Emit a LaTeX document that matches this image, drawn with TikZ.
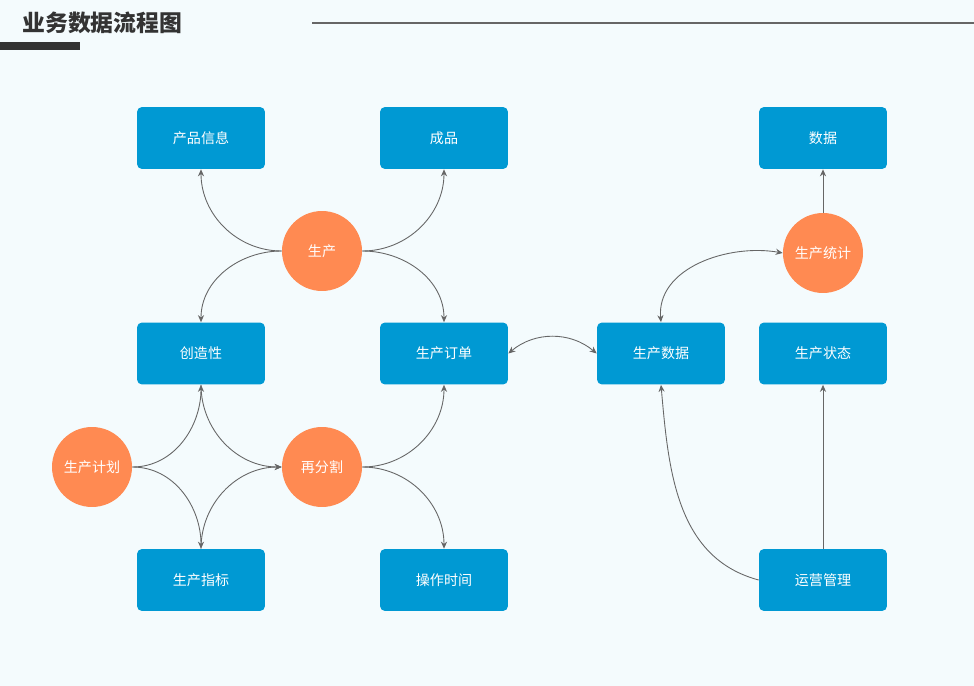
\documentclass[tikz,border=0pt]{standalone}
\usepackage{fontspec}
\newfontfamily\cjk{Noto Sans CJK SC}
\usetikzlibrary{arrows.meta}
\definecolor{bgcol}{RGB}{244,251,253}
\definecolor{boxblue}{RGB}{0,153,211}
\definecolor{dotorange}{RGB}{255,138,82}
\definecolor{linegray}{RGB}{102,102,102}
\tikzset{
  flowbox/.style={fill=boxblue, rounded corners=0.1cm, minimum width=2.56cm, minimum height=1.24cm, text=white, font=\cjk\fontsize{8}{10}\selectfont, inner sep=0pt},
  flowdot/.style={circle, fill=dotorange, minimum size=1.6cm, text=white, font=\cjk\fontsize{8}{10}\selectfont, inner sep=0pt},
  link/.style={draw=linegray, line width=0.5pt, -{Stealth[length=4pt,width=3.5pt]}},
  twolink/.style={draw=linegray, line width=0.5pt, {Stealth[length=4pt,width=3.5pt]}-{Stealth[length=4pt,width=3.5pt]}}
}
\begin{document}
\begin{tikzpicture}[x=0.02cm, y=-0.02cm]
\fill[bgcol] (0,0) rectangle (974,686);
\useasboundingbox (0,0) rectangle (974,686);
% title
\node[font=\cjk\bfseries\fontsize{13}{15}\selectfont, text=black!80, anchor=west, inner sep=0pt] (title) at (22,23) {业务数据流程图};
\fill[black!80] (0,42) rectangle (80,50);
\draw[linegray, line width=0.6pt] (312,23) -- (974,23);

% boxes
\node[flowbox] (info) at (201,138) {产品信息};
\node[flowbox] (product) at (444,138) {成品};
\node[flowbox] (data) at (823,138) {数据};
\node[flowbox] (create) at (201,353.5) {创造性};
\node[flowbox] (order) at (444,353.5) {生产订单};
\node[flowbox] (pdata) at (661,353.5) {生产数据};
\node[flowbox] (state) at (823,353.5) {生产状态};
\node[flowbox] (index) at (201,580) {生产指标};
\node[flowbox] (optime) at (444,580) {操作时间};
\node[flowbox] (manage) at (823,580) {运营管理};

% circles
\node[flowdot] (make) at (322,251) {生产};
\node[flowdot] (plan) at (92,467) {生产计划};
\node[flowdot] (split) at (322,467) {再分割};
\node[flowdot] (stat) at (823,253) {生产统计};

% links
\draw[link] (make.west) to[out=180, in=-90] (info.south);
\draw[link] (make.west) to[out=180, in=90] (create.north);
\draw[link] (make.east) to[out=0, in=-90] (product.south);
\draw[link] (make.east) to[out=0, in=90] (order.north);
\draw[link] (plan.east) to[out=0, in=-90] (create.south);
\draw[link] (plan.east) to[out=0, in=90] (index.north);
\draw[link] (create.south) to[out=-90, in=180] (split.west);
\draw[link] (index.north) to[out=90, in=180] (split.west);
\draw[link] (split.east) to[out=0, in=-90] (order.south);
\draw[link] (split.east) to[out=0, in=90] (optime.north);
\draw[twolink] (order.east) to[out=40, in=140] (pdata.west);
\draw[twolink] (pdata.north) to[out=95, in=170] (stat.west);
\draw[link] (stat.north) -- (data.south);
\draw[link] (manage.north) -- (state.south);
\draw[link] (manage.west) to[out=165, in=-85] (pdata.south);
\end{tikzpicture}
\end{document}
